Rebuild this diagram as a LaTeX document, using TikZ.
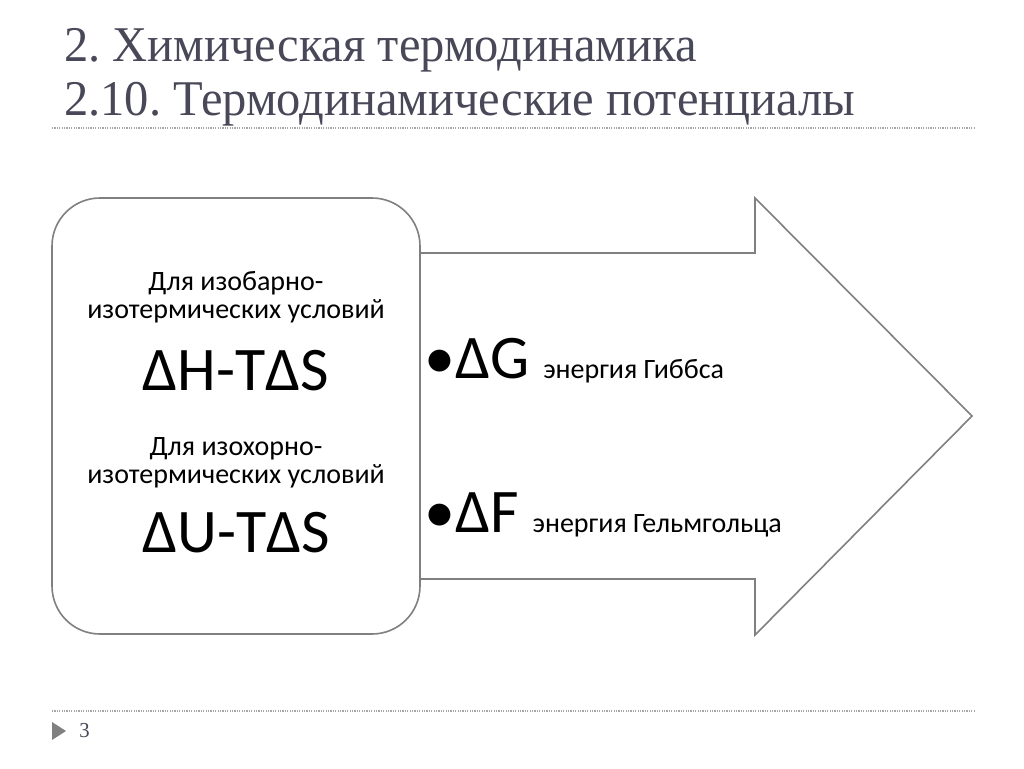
\documentclass[tikz,border=0pt]{standalone}
\usepackage{fontspec}
\setmainfont{Carlito}
\newfontfamily\titlefont[FakeStretch=0.97]{Liberation Serif}
\definecolor{titlecol}{RGB}{72,72,88}
\definecolor{linecol}{RGB}{128,128,128}
\definecolor{dotcol}{RGB}{166,166,166}
\newcommand{\smalltxt}{\fontsize{21}{23}\selectfont}
\newcommand{\bigtxt}{\fontsize{46.5}{50}\selectfont}
\frenchspacing
\begin{document}
\begin{tikzpicture}[x=0.75pt,y=-0.75pt]
\useasboundingbox (0,0) rectangle (1024,768);
\fill[white] (0,0) rectangle (1024,768);
% title and rules
\node[anchor=base west,text=titlecol,inner sep=0pt] (title1) at (64,61) {\titlefont\fontsize{37.5}{40}\selectfont 2. Химическая термодинамика};
\node[anchor=base west,text=titlecol,inner sep=0pt] (title2) at (64,115) {\titlefont\fontsize{37.5}{40}\selectfont 2.10. Термодинамические потенциалы};
\draw[dotcol,line width=0.9pt,dash pattern=on 0.9pt off 0.9pt] (52,128) -- (975,128);
\draw[dotcol,line width=0.9pt,dash pattern=on 0.9pt off 0.9pt] (52,711) -- (975,711);
\fill[linecol] (52,722) -- (66,731) -- (52,740) -- cycle;
\node[anchor=base west,text=titlecol,inner sep=0pt] (page) at (79,737) {\titlefont\fontsize{16}{18}\selectfont 3};
% arrow and box
\draw[linecol,line width=1.2pt,fill=white] (420,253) -- (755,253) -- (755,198) -- (972,416) -- (755,635) -- (755,579) -- (420,579);
\draw[linecol,line width=1.2pt,fill=white,rounded corners=36pt] (52,198) rectangle (420,634);
% left texts
\node[anchor=base,inner sep=0pt] (isobar1) at (236,290) {\smalltxt Для изобарно-};
\node[anchor=base,inner sep=0pt] (isobar2) at (236,318) {\smalltxt изотермических условий};
\node[anchor=base,inner sep=0pt] (gibbsf) at (236,390) {\bigtxt ΔH-TΔS};
\node[anchor=base,inner sep=0pt] (isochor1) at (236,455) {\smalltxt Для изохорно-};
\node[anchor=base,inner sep=0pt] (isochor2) at (236,483) {\smalltxt изотермических условий};
\node[anchor=base,inner sep=0pt] (helmf) at (236,552) {\bigtxt ΔU-TΔS};
% right bullets
\node[anchor=base west,inner sep=0pt] (gibbs) at (424,378) {\bigtxt •ΔG \smalltxt энергия Гиббса};
\node[anchor=base west,inner sep=0pt] (helm) at (424,532) {\bigtxt •ΔF \smalltxt энергия Гельмгольца};
\end{tikzpicture}
\end{document}
